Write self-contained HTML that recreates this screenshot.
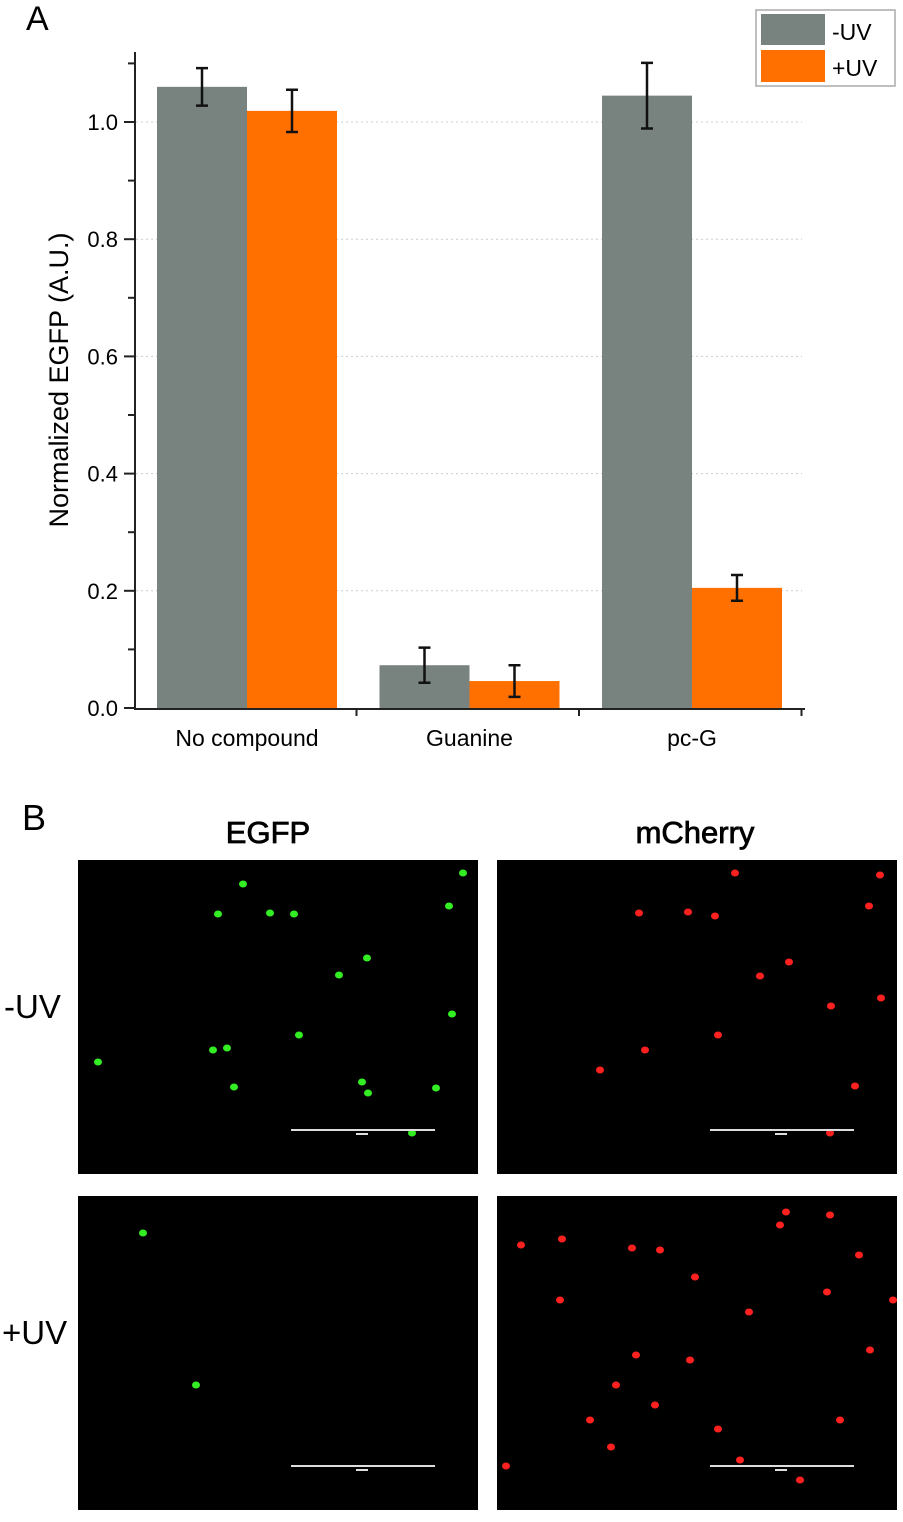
<!DOCTYPE html>
<html><head><meta charset="utf-8"><style>
body{margin:0;background:#fff;width:903px;height:1517px;overflow:hidden;font-family:"Liberation Sans",sans-serif}
svg text{font-family:"Liberation Sans",sans-serif}
</style></head><body>
<svg id="fig" width="903" height="1517">
<text x="26" y="30" font-size="34">A</text>
<g id="chart"></g>
<g>
<rect x="756" y="10" width="139" height="76" fill="#fff" stroke="#aaa" stroke-width="1.5"/>
<rect x="761" y="14" width="64" height="31" fill="#78837f"/>
<rect x="761" y="50" width="64" height="32" fill="#ff7000"/>
<text x="832" y="40" font-size="23">-UV</text>
<text x="832" y="76" font-size="23">+UV</text>
</g>
<text x="22" y="830" font-size="36">B</text>
<text x="268" y="843" font-size="31" text-anchor="middle" stroke="#000" stroke-width="0.8">EGFP</text>
<text x="695" y="843" font-size="31" text-anchor="middle" stroke="#000" stroke-width="0.8">mCherry</text>
<text x="4" y="1018" font-size="33">-UV</text>
<text x="2" y="1344" font-size="33">+UV</text>
<g id="micro"></g>
</svg>
<script>
const categories=["No compound","Guanine","pc-G"];
const minusUV=[1.06,0.073,1.045];
const plusUV=[1.019,0.046,0.205];
const minusErr=[0.032,0.03,0.056];
const plusErr=[0.036,0.027,0.022];
const yTicks=[0.0,0.2,0.4,0.6,0.8,1.0];
const NS="http://www.w3.org/2000/svg";
const g=document.getElementById('chart');
const y=v=>708-v*586;
const groupX=i=>157+i*222.5;
function mk(t,a,p){const e=document.createElementNS(NS,t);for(const k in a)e.setAttribute(k,a[k]);(p||g).appendChild(e);return e;}
yTicks.forEach(v=>{if(v>0){const l=mk('line',{x1:136,x2:802,y1:y(v),y2:y(v),stroke:'#ccc','stroke-dasharray':'2,3'});

}});
categories.forEach((c,i)=>{
 const x0=groupX(i);
 [[minusUV,minusErr,'#78837f',0],[plusUV,plusErr,'#ff7000',90]].forEach(([vals,errs,col,off],s)=>{
  const b=mk('rect',{x:x0+off,y:y(vals[i]),width:90,height:708-y(vals[i]),fill:col});
  
  
  const cx=x0+off+45,t=y(vals[i]+errs[i]),bo=y(vals[i]-errs[i]);
  const eb=mk('path',{d:`M${cx},${t}V${bo}M${cx-6},${t}H${cx+6}M${cx-6},${bo}H${cx+6}`,stroke:'#111','stroke-width':2.5,fill:'none'});
  
  
 });
 const tl=mk('text',{x:x0+90,y:746,'font-size':23,'text-anchor':'middle'});tl.textContent=c;
 
 
});
const ax=mk('path',{d:'M135,52V709H805',stroke:'#222','stroke-width':2,fill:'none'});


for(let k=0;k<=11;k++){const v=k/10;mk('line',{x1:k%2?128:124,x2:135,y1:y(v),y2:y(v),stroke:'#222','stroke-width':2});}
[1,2,3].forEach(i=>mk('line',{x1:groupX(i)-23+0,x2:groupX(i)-23,y1:709,y2:716,stroke:'#222','stroke-width':2}));
yTicks.forEach(v=>{const t=mk('text',{x:118,y:y(v)+8,'font-size':22,'text-anchor':'end'});t.textContent=v.toFixed(1);

});
const yt=mk('text',{x:0,y:0,'font-size':27,'text-anchor':'middle',transform:'translate(68,380) rotate(-90)'});
yt.textContent='Normalized EGFP (A.U.)';


const m=document.getElementById('micro');
const panels=[[78,860,'#33ee22',[[243,884],[270,913],[218,914],[294,914],[449,906],[339,975],[367,958],[299,1035],[213,1050],[227,1048],[234,1087],[362,1082],[368,1093],[436,1088],[412,1133],[452,1014],[98,1062],[463,873]]],
[497,860,'#ff2020',[[735,873],[880,875],[869,906],[715,916],[688,912],[639,913],[760,976],[789,962],[718,1035],[831,1006],[881,998],[855,1086],[645,1050],[600,1070],[830,1133]]],
[78,1196,'#33ee22',[[143,1233],[196,1385]]],
[497,1196,'#ff2020',[[562,1239],[521,1245],[632,1248],[695,1277],[827,1292],[859,1255],[786,1212],[655,1405],[718,1429],[616,1385],[749,1312],[636,1355],[893,1300],[506,1466],[611,1447],[780,1225],[690,1360],[840,1420],[560,1300],[870,1350],[830,1215],[740,1460],[590,1420],[800,1480],[660,1250]]]];
panels.forEach(([px,py,col,dots])=>{
 const r=mk('rect',{x:px,y:py,width:400,height:314,fill:'#000'},m);
 
 
 dots.forEach(([dx,dy])=>mk('ellipse',{cx:dx,cy:dy,rx:4,ry:3.5,fill:col},m));
 mk('line',{x1:px+213,x2:px+357,y1:py+270,y2:py+270,stroke:'#ddd','stroke-width':2},m);
 mk('line',{x1:px+278,x2:px+290,y1:py+274,y2:py+274,stroke:'#ddd','stroke-width':2},m);
});
</script>
</body></html>
